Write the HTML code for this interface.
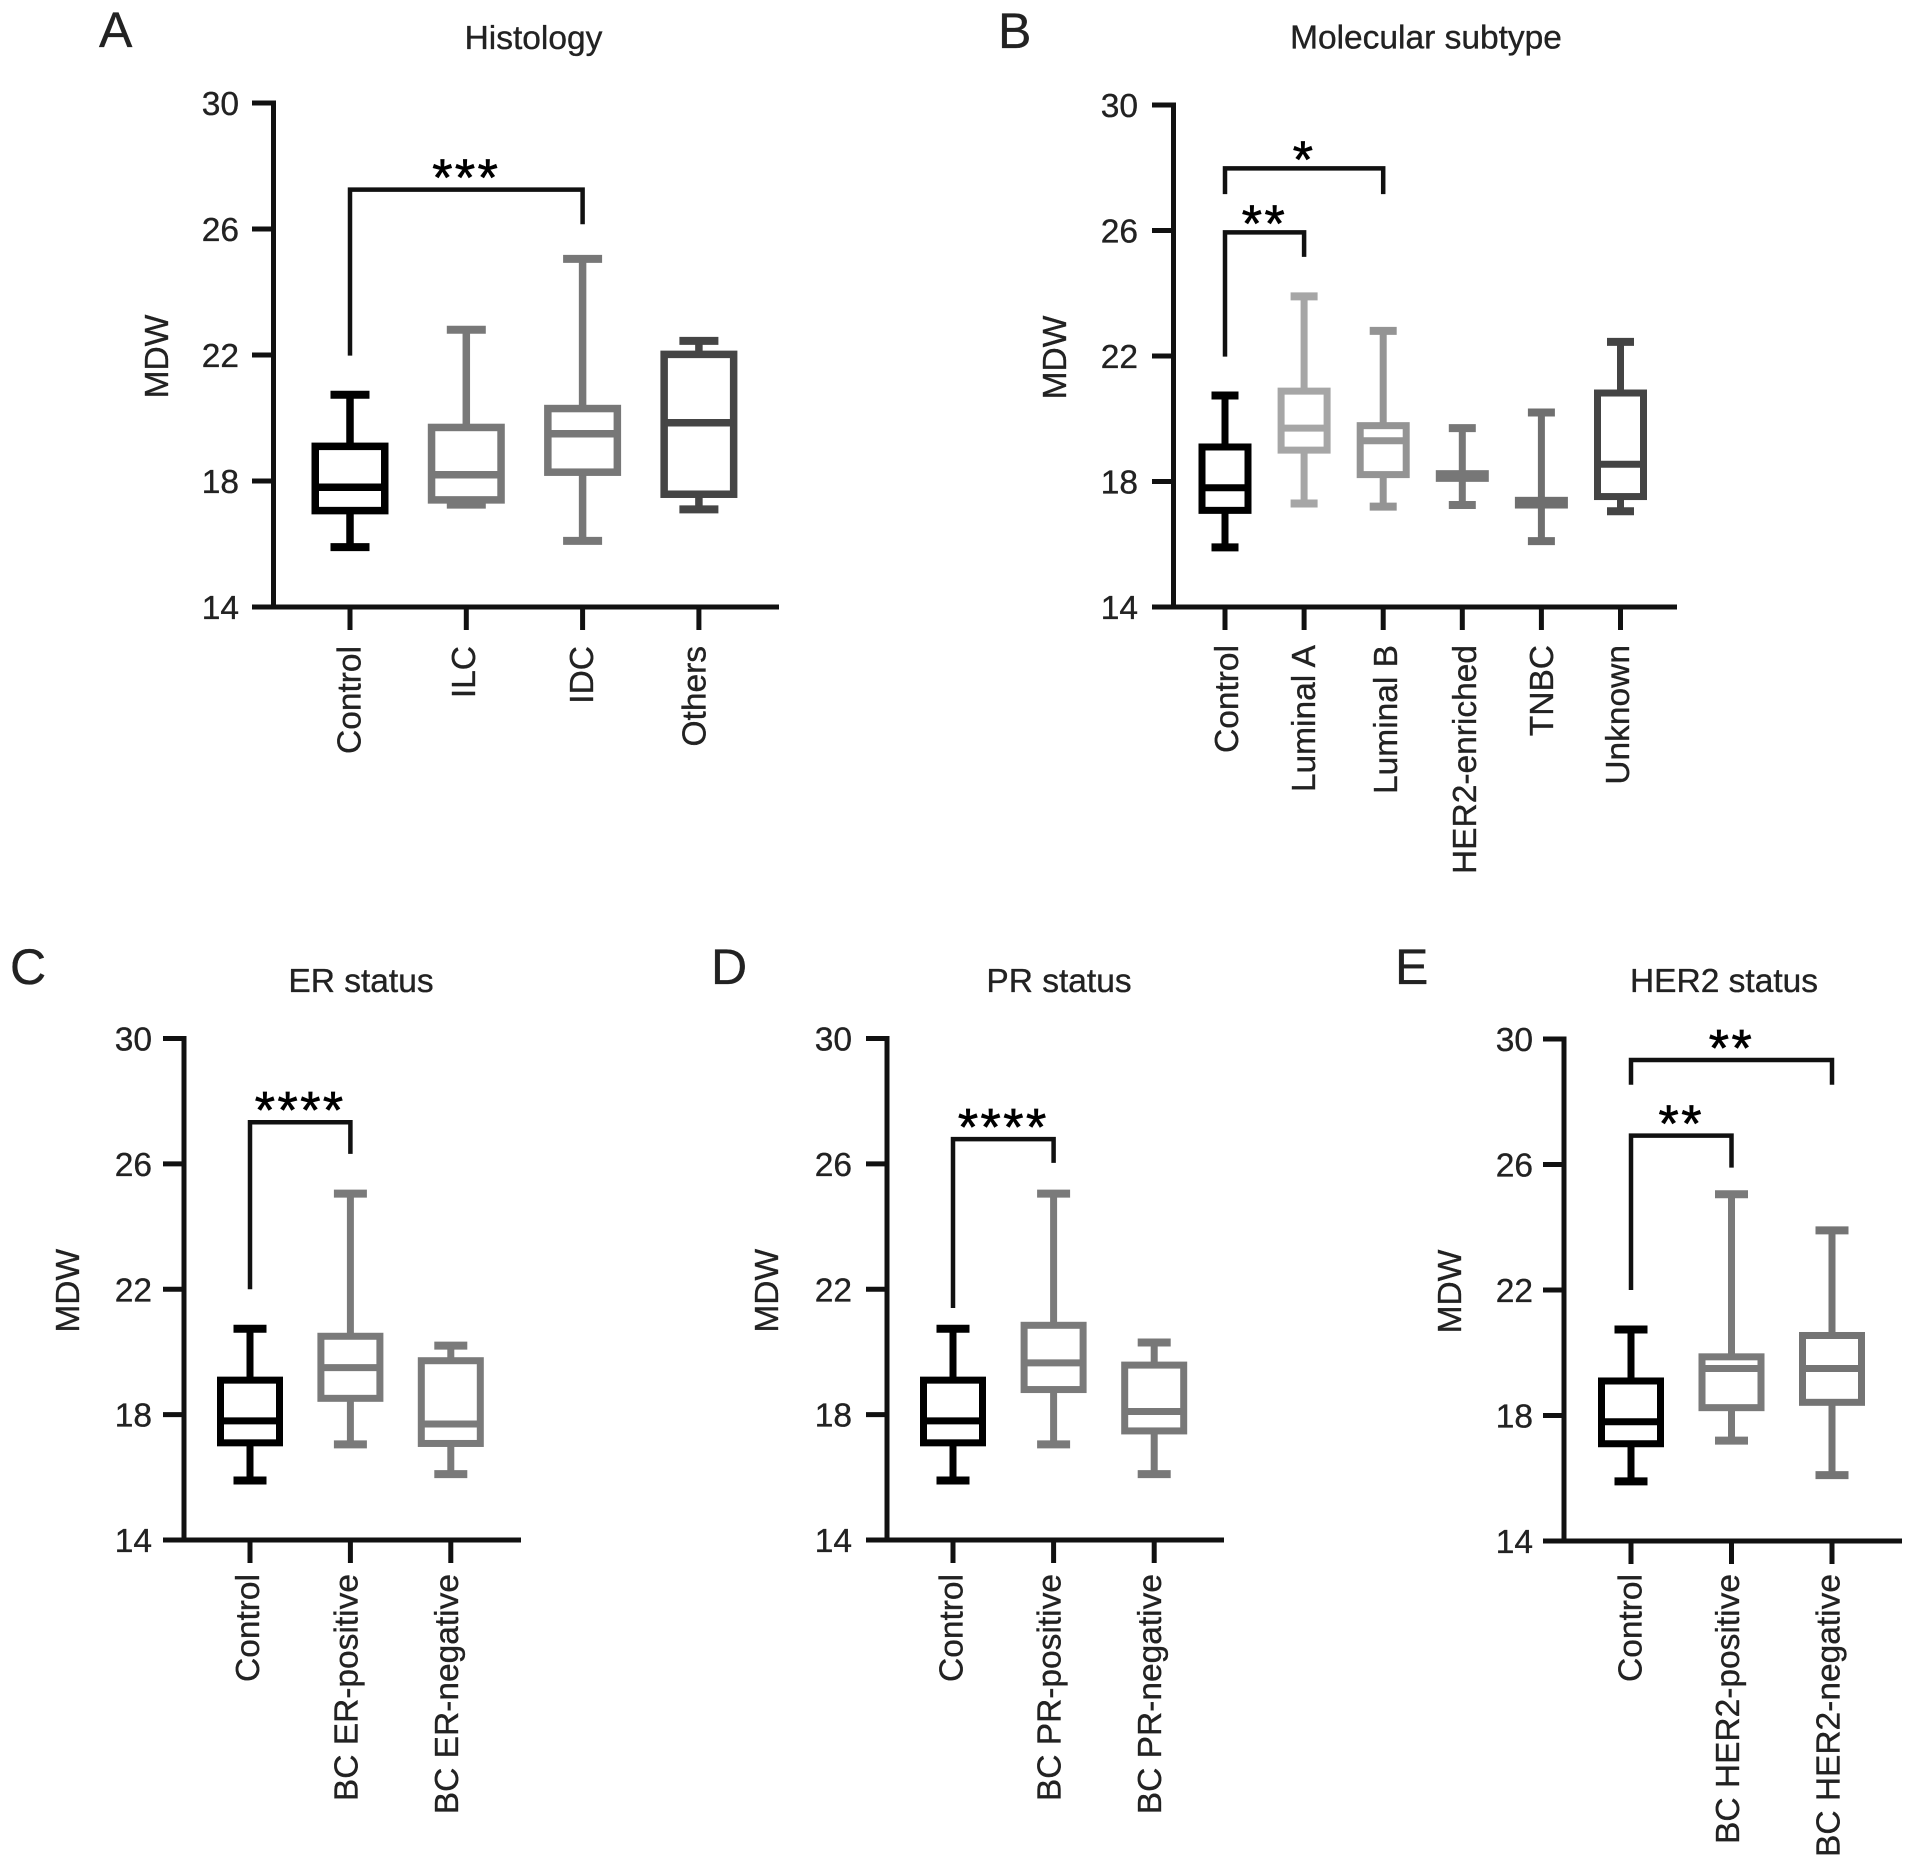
<!DOCTYPE html>
<html lang="en">
<head>
<meta charset="utf-8">
<title>MDW box plots by breast cancer characteristics</title>
<style>
html,body{margin:0;padding:0;background:#fff;width:1914px;height:1866px;overflow:hidden}
svg{display:block}
text{font-family:"Liberation Sans",Arial,sans-serif;fill:#222;stroke:#222;stroke-width:0.35px}
</style>
</head>
<body>
<svg id="figure" xmlns="http://www.w3.org/2000/svg" width="1914" height="1866" viewBox="0 0 1914 1866"></svg>
<script>
const yTickLabels = [14, 18, 22, 26, 30];

const panelACategories = ["Control", "ILC", "IDC", "Others"];
const panelAWhiskerLow = [15.9, 17.25, 16.1, 17.1];
const panelAQ1 = [17.06, 17.4, 18.28, 17.58];
const panelAMedian = [17.8, 18.2, 19.5, 19.85];
const panelAQ3 = [19.1, 19.7, 20.3, 22.02];
const panelAWhiskerHigh = [20.74, 22.8, 25.05, 22.45];

const panelBCategories = ["Control", "Luminal A", "Luminal B", "HER2-enriched", "TNBC", "Unknown"];
const panelBWhiskerLow = [15.9, 17.3, 17.2, 17.25, 16.1, 17.05];
const panelBQ1 = [17.08, 19.0, 18.22, 18.1, 17.25, 17.52];
const panelBMedian = [17.8, 19.7, 19.3, 18.17, 17.32, 18.55];
const panelBQ3 = [19.1, 20.88, 19.78, 18.25, 17.4, 20.82];
const panelBWhiskerHigh = [20.74, 23.9, 22.8, 19.7, 20.2, 22.45];

const panelCCategories = ["Control", "BC ER-positive", "BC ER-negative"];
const panelCWhiskerLow = [15.9, 17.05, 16.1];
const panelCQ1 = [17.1, 18.52, 17.08];
const panelCMedian = [17.8, 19.5, 17.7];
const panelCQ3 = [19.1, 20.5, 19.72];
const panelCWhiskerHigh = [20.74, 25.05, 20.2];

const panelDCategories = ["Control", "BC PR-positive", "BC PR-negative"];
const panelDWhiskerLow = [15.9, 17.05, 16.1];
const panelDQ1 = [17.1, 18.8, 17.48];
const panelDMedian = [17.8, 19.65, 18.1];
const panelDQ3 = [19.1, 20.85, 19.58];
const panelDWhiskerHigh = [20.74, 25.05, 20.3];

const panelECategories = ["Control", "BC HER2-positive", "BC HER2-negative"];
const panelEWhiskerLow = [15.9, 17.2, 16.1];
const panelEQ1 = [17.1, 18.25, 18.42];
const panelEMedian = [17.8, 19.5, 19.5];
const panelEQ3 = [19.1, 19.87, 20.55];
const panelEWhiskerHigh = [20.74, 25.05, 23.9];

/* significance brackets: group indices, bracket level and leg ends in MDW units */
const panelABracketFrom = [0];
const panelABracketTo = [2];
const panelABracketTop = [27.25];
const panelABracketLeftEnd = [21.98];
const panelABracketRightEnd = [26.15];
const panelABracketStars = ["***"];

const panelBBracketFrom = [0, 0];
const panelBBracketTo = [2, 1];
const panelBBracketTop = [27.98, 25.94];
const panelBBracketLeftEnd = [27.16, 21.98];
const panelBBracketRightEnd = [27.16, 25.16];
const panelBBracketStars = ["*", "**"];

const panelCBracketFrom = [0];
const panelCBracketTo = [1];
const panelCBracketTop = [27.33];
const panelCBracketLeftEnd = [22.0];
const panelCBracketRightEnd = [26.32];
const panelCBracketStars = ["****"];

const panelDBracketFrom = [0];
const panelDBracketTo = [1];
const panelDBracketTop = [26.79];
const panelDBracketLeftEnd = [21.4];
const panelDBracketRightEnd = [26.03];
const panelDBracketStars = ["****"];

const panelEBracketFrom = [0, 0];
const panelEBracketTo = [2, 1];
const panelEBracketTop = [29.33, 26.92];
const panelEBracketLeftEnd = [28.54, 22.0];
const panelEBracketRightEnd = [28.54, 25.9];
const panelEBracketStars = ["**", "**"];

const yMin = 14;
const yMax = 30;

const NS = "http://www.w3.org/2000/svg";
const figure = document.getElementById("figure");

function shape(parent, tag, attrs) {
  const el = document.createElementNS(NS, tag);
  for (const k in attrs) el.setAttribute(k, attrs[k]);
  parent.appendChild(el);
  return el;
}

function drawPanel(p) {
  const g = document.createElementNS(NS, "g");
  
  
  figure.appendChild(g);

  const yScale = v => p.bottom - (v - yMin) / (yMax - yMin) * (p.bottom - p.top);
  const xScale = i => p.firstCat + i * p.step;

  const letter = shape(g, "text", {x: p.letterX, y: p.letterY, "font-size": 50});
  letter.textContent = p.id.toUpperCase();
  
  

  const title = shape(g, "text", {x: p.titleX, y: p.titleY, "font-size": 33.5, "text-anchor": "middle"});
  title.textContent = p.title;
  
  

  const yTitle = shape(g, "text", {x: 0, y: 0, "font-size": 33.5, "text-anchor": "middle",
    transform: "translate(" + p.mdwX + "," + ((p.top + p.bottom) / 2 + 1.5) + ") rotate(-90)"});
  yTitle.textContent = "MDW";
  
  

  const yAxis = shape(g, "line", {x1: p.axisX, x2: p.axisX, y1: p.top - 2.5, y2: p.bottom + 2.5, stroke: "#111", "stroke-width": 5});
  
  

  const xAxis = shape(g, "line", {x1: p.tickLeft, x2: p.right, y1: p.bottom, y2: p.bottom, stroke: "#111", "stroke-width": 5});
  
  

  yTickLabels.forEach(v => {
    const y = yScale(v);
    const tick = shape(g, "line", {x1: p.tickLeft, x2: p.axisX, y1: y, y2: y, stroke: "#111", "stroke-width": 5});
    
    
    const label = shape(g, "text", {x: p.tickLabelRight, y: y + 12, "font-size": 33.5, "text-anchor": "end"});
    label.textContent = v;
    
    
  });

  p.categories.forEach((name, i) => {
    const x = xScale(i);
    const tick = shape(g, "line", {x1: x, x2: x, y1: p.bottom, y2: p.bottom + 23, stroke: "#111", "stroke-width": 5});
    
    
    const label = shape(g, "text", {x: 0, y: 0, "font-size": 33.5, "text-anchor": "end",
      transform: "translate(" + (x + p.labelShift[i]) + "," + p.catTop + ") rotate(-90)"});
    label.textContent = name;
    
    

    const color = p.colors[i];
    const box = document.createElementNS(NS, "g");
    
    
    g.appendChild(box);
    const sw = p.stroke;
    const half = (p.boxW - sw) / 2;
    const yLow = yScale(p.low[i]);
    const yHigh = yScale(p.high[i]);
    const yQ1 = yScale(p.q1[i]);
    const yQ3 = yScale(p.q3[i]);
    const yMed = yScale(p.med[i]);
    shape(box, "line", {x1: x, x2: x, y1: yHigh, y2: yQ3, stroke: color, "stroke-width": sw});
    shape(box, "line", {x1: x, x2: x, y1: yQ1, y2: yLow, stroke: color, "stroke-width": sw});
    shape(box, "line", {x1: x - p.capW / 2, x2: x + p.capW / 2, y1: yHigh, y2: yHigh, stroke: color, "stroke-width": 8});
    shape(box, "line", {x1: x - p.capW / 2, x2: x + p.capW / 2, y1: yLow, y2: yLow, stroke: color, "stroke-width": 8});
    shape(box, "rect", {x: x - half, y: yQ3, width: half * 2, height: yQ1 - yQ3, fill: "none", stroke: color, "stroke-width": sw});
    shape(box, "line", {x1: x - half, x2: x + half, y1: yMed, y2: yMed, stroke: color, "stroke-width": sw});
  });

  p.bFrom.forEach((from, i) => {
    const xa = xScale(from);
    const xb = xScale(p.bTo[i]);
    const yTop = yScale(p.bTop[i]);
    const bracket = shape(g, "path", {
      d: "M" + xa + " " + yScale(p.bLeft[i]) + "V" + yTop + "H" + xb + "V" + yScale(p.bRight[i]),
      fill: "none", stroke: "#111", "stroke-width": 4.5});
    
    
    const stars = shape(g, "text", {x: (xa + xb) / 2, y: yTop + p.starOffset, "font-size": 52, "text-anchor": "middle", "letter-spacing": 2.5});
    stars.style.fill = "#000";
    stars.style.stroke = "#000";
    stars.style.strokeWidth = "0.7px";
    stars.textContent = p.bStars[i];
    
    
  });
}

drawPanel({id: "a", title: "Histology", letterX: 99, letterY: 47, titleX: 533.5, titleY: 49, mdwX: 168,
  axisX: 273.5, right: 779, tickLeft: 252, tickLabelRight: 239, top: 103, bottom: 607,
  firstCat: 350, step: 116.3, boxW: 77, capW: 39, stroke: 7.5, catTop: 646,
  labelShift: [10.5, 8.5, 10.5, 6.5],
  colors: ["#000000", "#787878", "#777777", "#454545"],
  categories: panelACategories, low: panelAWhiskerLow, q1: panelAQ1, med: panelAMedian, q3: panelAQ3, high: panelAWhiskerHigh,
  bFrom: panelABracketFrom, bTo: panelABracketTo, bTop: panelABracketTop, bLeft: panelABracketLeftEnd, bRight: panelABracketRightEnd, bStars: panelABracketStars, starOffset: 6});

drawPanel({id: "b", title: "Molecular subtype", letterX: 998, letterY: 48, titleX: 1426, titleY: 48.5, mdwX: 1066,
  axisX: 1173.5, right: 1677, tickLeft: 1152, tickLabelRight: 1138, top: 105, bottom: 607,
  firstCat: 1225, step: 79.1, boxW: 53, capW: 27, stroke: 7, catTop: 645,
  labelShift: [13, 11, 14, 13.5, 11.7, 8.7],
  colors: ["#000000", "#a6a6a6", "#949494", "#777777", "#6f6f6f", "#444444"],
  categories: panelBCategories, low: panelBWhiskerLow, q1: panelBQ1, med: panelBMedian, q3: panelBQ3, high: panelBWhiskerHigh,
  bFrom: panelBBracketFrom, bTo: panelBBracketTo, bTop: panelBBracketTop, bLeft: panelBBracketLeftEnd, bRight: panelBBracketRightEnd, bStars: panelBBracketStars, starOffset: 9});

drawPanel({id: "c", title: "ER status", letterX: 10, letterY: 984, titleX: 361, titleY: 992, mdwX: 79,
  axisX: 184, right: 521, tickLeft: 163, tickLabelRight: 152, top: 1038.5, bottom: 1540,
  firstCat: 250, step: 100.4, boxW: 66, capW: 33, stroke: 7, catTop: 1574,
  labelShift: [9, 7, 7],
  colors: ["#000000", "#7a7a7a", "#7a7a7a"],
  categories: panelCCategories, low: panelCWhiskerLow, q1: panelCQ1, med: panelCMedian, q3: panelCQ3, high: panelCWhiskerHigh,
  bFrom: panelCBracketFrom, bTo: panelCBracketTo, bTop: panelCBracketTop, bLeft: panelCBracketLeftEnd, bRight: panelCBracketRightEnd, bStars: panelCBracketStars, starOffset: 6});

drawPanel({id: "d", title: "PR status", letterX: 711, letterY: 984, titleX: 1059, titleY: 992, mdwX: 778,
  axisX: 887, right: 1224, tickLeft: 866, tickLabelRight: 852, top: 1038.5, bottom: 1540,
  firstCat: 953, step: 100.6, boxW: 66, capW: 33, stroke: 7, catTop: 1574,
  labelShift: [9.7, 7, 7],
  colors: ["#000000", "#7a7a7a", "#787878"],
  categories: panelDCategories, low: panelDWhiskerLow, q1: panelDQ1, med: panelDMedian, q3: panelDQ3, high: panelDWhiskerHigh,
  bFrom: panelDBracketFrom, bTo: panelDBracketTo, bTop: panelDBracketTop, bLeft: panelDBracketLeftEnd, bRight: panelDBracketRightEnd, bStars: panelDBracketStars, starOffset: 6});

drawPanel({id: "e", title: "HER2 status", letterX: 1395, letterY: 984, titleX: 1724, titleY: 992, mdwX: 1461,
  axisX: 1564, right: 1902, tickLeft: 1543, tickLabelRight: 1533, top: 1039, bottom: 1541,
  firstCat: 1631, step: 100.5, boxW: 66, capW: 33, stroke: 7, catTop: 1574,
  labelShift: [10.6, 7.5, 7.5],
  colors: ["#000000", "#7a7a7a", "#747474"],
  categories: panelECategories, low: panelEWhiskerLow, q1: panelEQ1, med: panelEMedian, q3: panelEQ3, high: panelEWhiskerHigh,
  bFrom: panelEBracketFrom, bTo: panelEBracketTo, bTop: panelEBracketTop, bLeft: panelEBracketLeftEnd, bRight: panelEBracketRightEnd, bStars: panelEBracketStars, starOffset: 6});
</script>
</body>
</html>
